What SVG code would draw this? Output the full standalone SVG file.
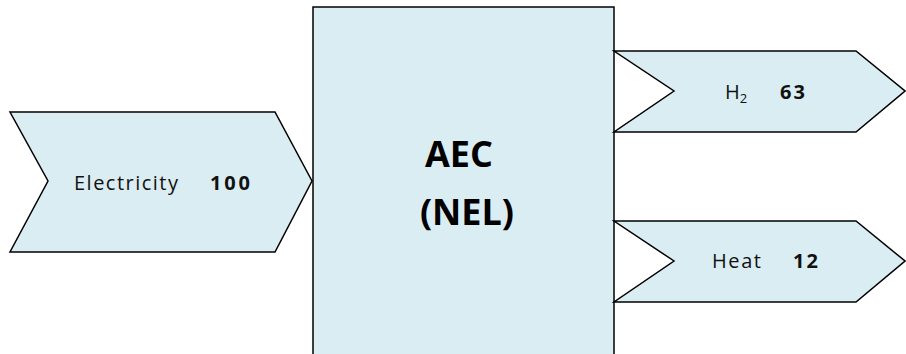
<svg xmlns="http://www.w3.org/2000/svg" width="906" height="354" viewBox="0 0 906 354">
<style>
.shape{fill:#DAEDF3;stroke:#000;stroke-width:1.5;stroke-linejoin:miter}
.t{font-family:"Open Sans","Liberation Sans",sans-serif;font-size:20px;fill:#111}
.b{font-weight:bold}
.big{font-family:"Open Sans","Liberation Sans",sans-serif;font-size:36px;font-weight:bold;fill:#000;text-anchor:middle}
</style>
<rect width="906" height="354" fill="#fff"/>
<g id="aec">
<rect class="shape" x="313" y="7" width="301" height="352"/>
<text class="big" x="459" y="167">AEC</text>
<text class="big" x="467" y="225">(NEL)</text>
</g>
<g id="connectors">
<g id="electricity">
<polygon class="shape" points="10,112 275,112 312,181 275,252 10,252 48,181"/>
<text class="t" x="74" y="190" textLength="104" lengthAdjust="spacing">Electricity</text>
<text class="t b" x="210" y="190" textLength="40" lengthAdjust="spacing">100</text>
</g>
<g id="h2">
<polygon class="shape" points="614,51 856,51 905,91 856,132 614,132 674,91"/>
<text class="t" x="725" y="99">H<tspan font-size="13" dy="4">2</tspan></text>
<text class="t b" x="780" y="99" textLength="25" lengthAdjust="spacing">63</text>
</g>
<g id="heat">
<polygon class="shape" points="614,221 856,221 905,261 856,302 614,302 674,261"/>
<text class="t" x="712" y="268" textLength="49" lengthAdjust="spacing">Heat</text>
<text class="t b" x="793" y="268" textLength="25" lengthAdjust="spacing">12</text>
</g>
</g>
</svg>
